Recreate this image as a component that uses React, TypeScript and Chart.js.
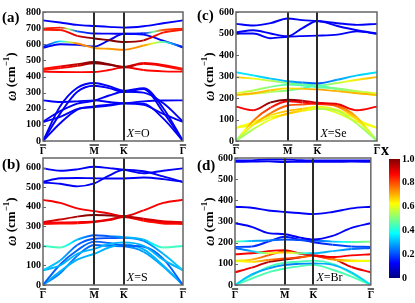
import React, { useEffect, useRef } from 'react';
import { Chart, registerables } from 'chart.js';

Chart.register(...registerables);

const FONT = "'Liberation Serif', 'Times New Roman', serif";

// positions along the Γ–M–K–Γ path (hexagonal BZ: 0.866 : 0.5 : 1)
const kPath = [0, 0.29, 0.58, 0.866, 1.116, 1.366, 1.7, 2.03, 2.366];
const kTickPos = [0, 0.866, 1.366, 2.366];
const kTickLabels = ['\u0393', 'M', 'K', '\u0393'];

// ---------- (a) X = O ----------
const freqO = [
  [748, 735, 720, 713, 708, 703, 712, 730, 748],
  [697, 703, 680, 667, 666, 665, 668, 688, 697],
  [690, 688, 652, 636, 625, 614, 624, 672, 690],
  [583, 618, 605, 577, 572, 566, 592, 615, 580],
  [578, 600, 596, 586, 625, 665, 660, 622, 583],
  [448, 462, 476, 490, 476, 459, 484, 472, 448],
  [440, 452, 466, 482, 472, 459, 478, 465, 440],
  [430, 428, 427, 428, 440, 457, 440, 432, 430],
  [0, 215, 330, 360, 340, 312, 328, 205, 0],
  [0, 170, 305, 343, 328, 305, 322, 180, 0],
  [0, 110, 195, 215, 225, 235, 232, 140, 0],
  [120, 185, 232, 250, 282, 305, 300, 235, 120],
  [118, 150, 198, 210, 220, 232, 224, 168, 118],
  [252, 242, 246, 252, 242, 235, 246, 251, 252],
];
const compO = [
  [0.12, 0.12, 0.12, 0.12, 0.12, 0.12, 0.12, 0.12, 0.12],
  [0.85, 0.85, 0.2, 0.12, 0.12, 0.12, 0.15, 0.8, 0.85],
  [0.85, 0.85, 0.92, 1.0, 1.0, 1.0, 0.95, 0.85, 0.85],
  [0.12, 0.35, 0.75, 0.72, 0.72, 0.75, 0.72, 0.45, 0.12],
  [0.12, 0.12, 0.12, 0.12, 0.12, 0.12, 0.12, 0.12, 0.12],
  [0.85, 0.88, 0.95, 1.0, 1.0, 0.95, 0.9, 0.88, 0.85],
  [0.85, 0.87, 0.92, 0.98, 0.98, 0.95, 0.88, 0.87, 0.85],
  [0.87, 0.87, 0.87, 0.87, 0.87, 0.9, 0.87, 0.87, 0.87],
  [0.12, 0.12, 0.12, 0.12, 0.12, 0.12, 0.12, 0.12, 0.12],
  [0.12, 0.12, 0.12, 0.12, 0.12, 0.12, 0.12, 0.12, 0.12],
  [0.12, 0.12, 0.12, 0.12, 0.12, 0.12, 0.12, 0.12, 0.12],
  [0.12, 0.12, 0.12, 0.12, 0.12, 0.12, 0.12, 0.12, 0.12],
  [0.12, 0.12, 0.12, 0.12, 0.12, 0.12, 0.12, 0.12, 0.12],
  [0.12, 0.12, 0.12, 0.12, 0.12, 0.12, 0.12, 0.12, 0.12],
];

// ---------- (b) X = S ----------
const freqS = [
  [597, 585, 592, 605, 598, 590, 572, 585, 597],
  [528, 546, 548, 546, 545, 545, 550, 542, 528],
  [525, 518, 505, 520, 560, 590, 582, 556, 527],
  [436, 420, 392, 378, 366, 352, 382, 420, 436],
  [322, 335, 350, 358, 356, 352, 340, 326, 322],
  [318, 320, 322, 325, 335, 350, 335, 320, 318],
  [312, 314, 316, 322, 332, 348, 328, 315, 312],
  [200, 192, 232, 255, 250, 245, 232, 192, 200],
  [75, 125, 205, 237, 240, 242, 226, 160, 75],
  [75, 100, 160, 185, 210, 218, 200, 130, 75],
  [0, 105, 178, 222, 215, 202, 196, 135, 0],
  [0, 70, 130, 160, 192, 208, 182, 100, 0],
  [0, 60, 150, 205, 200, 198, 170, 95, 0],
];
const compS = [
  [0.12, 0.12, 0.12, 0.12, 0.12, 0.12, 0.12, 0.12, 0.12],
  [0.12, 0.12, 0.12, 0.12, 0.12, 0.12, 0.12, 0.12, 0.12],
  [0.12, 0.12, 0.12, 0.12, 0.12, 0.12, 0.12, 0.12, 0.12],
  [0.88, 0.88, 0.88, 0.88, 0.9, 0.92, 0.88, 0.88, 0.88],
  [0.9, 0.92, 0.97, 1.0, 1.0, 0.97, 0.93, 0.9, 0.9],
  [0.88, 0.88, 0.88, 0.9, 0.9, 0.92, 0.88, 0.88, 0.88],
  [0.86, 0.86, 0.86, 0.88, 0.88, 0.9, 0.86, 0.86, 0.86],
  [0.42, 0.45, 0.3, 0.2, 0.22, 0.3, 0.3, 0.45, 0.42],
  [0.33, 0.3, 0.22, 0.2, 0.2, 0.22, 0.25, 0.3, 0.33],
  [0.3, 0.3, 0.3, 0.3, 0.3, 0.3, 0.3, 0.3, 0.3],
  [0.22, 0.22, 0.22, 0.22, 0.22, 0.22, 0.22, 0.22, 0.22],
  [0.3, 0.3, 0.3, 0.3, 0.3, 0.3, 0.3, 0.3, 0.3],
  [0.25, 0.25, 0.25, 0.22, 0.22, 0.25, 0.28, 0.3, 0.25],
];

// ---------- (c) X = Se ----------
const freqSe = [
  [545, 537, 548, 570, 562, 558, 548, 540, 545],
  [505, 515, 500, 487, 525, 558, 535, 515, 500],
  [500, 500, 478, 485, 488, 490, 495, 510, 498],
  [320, 305, 290, 278, 272, 268, 285, 305, 320],
  [297, 290, 280, 270, 264, 258, 270, 285, 297],
  [222, 235, 252, 262, 258, 250, 245, 232, 222],
  [215, 222, 236, 245, 243, 240, 232, 222, 215],
  [212, 220, 228, 235, 245, 258, 240, 225, 212],
  [160, 143, 180, 192, 188, 178, 172, 143, 160],
  [0, 95, 155, 185, 180, 172, 165, 110, 0],
  [0, 75, 130, 165, 170, 175, 160, 100, 0],
  [0, 55, 100, 128, 140, 150, 140, 80, 0],
  [61, 88, 120, 140, 150, 160, 145, 100, 61],
  [61, 78, 110, 125, 145, 155, 130, 90, 61],
];
const compSe = [
  [0.12, 0.12, 0.12, 0.12, 0.12, 0.12, 0.12, 0.12, 0.12],
  [0.12, 0.12, 0.12, 0.12, 0.12, 0.12, 0.12, 0.12, 0.12],
  [0.12, 0.12, 0.12, 0.12, 0.12, 0.12, 0.12, 0.12, 0.12],
  [0.35, 0.35, 0.32, 0.3, 0.25, 0.2, 0.28, 0.33, 0.35],
  [0.7, 0.62, 0.55, 0.5, 0.48, 0.45, 0.55, 0.65, 0.7],
  [0.6, 0.55, 0.5, 0.45, 0.45, 0.45, 0.5, 0.55, 0.6],
  [0.7, 0.7, 0.68, 0.65, 0.68, 0.72, 0.7, 0.7, 0.7],
  [0.6, 0.58, 0.55, 0.5, 0.45, 0.42, 0.5, 0.58, 0.6],
  [0.88, 0.88, 1.0, 1.0, 0.95, 0.9, 0.9, 0.88, 0.88],
  [0.5, 0.75, 0.85, 0.88, 0.88, 0.85, 0.8, 0.7, 0.5],
  [0.5, 0.65, 0.75, 0.8, 0.8, 0.82, 0.75, 0.65, 0.5],
  [0.5, 0.55, 0.62, 0.7, 0.65, 0.55, 0.55, 0.55, 0.5],
  [0.62, 0.62, 0.65, 0.7, 0.68, 0.6, 0.6, 0.62, 0.62],
  [0.6, 0.6, 0.6, 0.62, 0.62, 0.6, 0.6, 0.6, 0.6],
];

// ---------- (d) X = Br ----------
const freqBr = [
  [588, 589, 593, 593, 590, 588, 589, 589, 588],
  [582, 583, 584, 581, 582, 582, 582, 583, 582],
  [370, 365, 352, 345, 340, 335, 345, 362, 370],
  [292, 275, 245, 240, 225, 215, 232, 270, 292],
  [205, 208, 210, 215, 212, 210, 205, 203, 205],
  [180, 182, 205, 228, 215, 202, 190, 182, 180],
  [175, 160, 150, 155, 150, 150, 160, 170, 175],
  [145, 150, 160, 165, 150, 140, 132, 140, 145],
  [115, 120, 140, 160, 150, 140, 122, 116, 115],
  [113, 110, 118, 125, 130, 138, 120, 112, 113],
  [60, 82, 108, 120, 130, 140, 125, 85, 60],
  [0, 50, 78, 95, 100, 102, 95, 60, 0],
  [0, 45, 85, 105, 110, 115, 100, 55, 0],
  [0, 30, 60, 78, 88, 95, 72, 40, 0],
];
const compBr = [
  [0.12, 0.12, 0.12, 0.12, 0.12, 0.12, 0.12, 0.12, 0.12],
  [0.12, 0.12, 0.12, 0.12, 0.12, 0.12, 0.12, 0.12, 0.12],
  [0.12, 0.12, 0.12, 0.12, 0.12, 0.12, 0.12, 0.12, 0.12],
  [0.12, 0.12, 0.12, 0.12, 0.12, 0.12, 0.12, 0.12, 0.12],
  [0.5, 0.3, 0.25, 0.2, 0.2, 0.2, 0.3, 0.45, 0.5],
  [0.2, 0.18, 0.15, 0.15, 0.15, 0.15, 0.18, 0.2, 0.2],
  [0.2, 0.3, 0.6, 0.7, 0.5, 0.3, 0.3, 0.25, 0.2],
  [0.88, 0.88, 0.88, 0.88, 0.88, 0.88, 0.88, 0.88, 0.88],
  [0.6, 0.7, 0.8, 0.9, 0.9, 0.9, 0.75, 0.65, 0.6],
  [0.6, 0.65, 0.75, 0.82, 0.8, 0.75, 0.7, 0.62, 0.6],
  [0.88, 0.9, 0.95, 1.0, 1.0, 1.0, 0.95, 0.9, 0.88],
  [0.35, 0.3, 0.28, 0.25, 0.25, 0.28, 0.3, 0.32, 0.35],
  [0.45, 0.45, 0.45, 0.45, 0.45, 0.45, 0.45, 0.45, 0.45],
  [0.45, 0.45, 0.45, 0.45, 0.45, 0.45, 0.45, 0.45, 0.45],
];

const colorbarTicks = [0, 0.2, 0.4, 0.6, 0.8, 1.0];

function jet(v: number): string {
  const c = (t: number) => Math.round(255 * Math.max(0, Math.min(1, 1.5 - Math.abs(t))));
  return `rgb(${c(4 * v - 3)},${c(4 * v - 2)},${c(4 * v - 1)})`;
}

const TICK_FONT = `bold 10px ${FONT}`;

const framePlugin = {
  id: 'phFrame',
  afterDatasetsDraw(chart: any, _args: any, opts: any) {
    const { ctx, chartArea: a, scales } = chart;
    ctx.save();
    // high-symmetry vertical lines
    ctx.strokeStyle = '#2a2a2a';
    ctx.lineWidth = 2;
    [0.866, 1.366].forEach((v) => {
      const x = Math.round(scales.x.getPixelForValue(v));
      ctx.beginPath();
      ctx.moveTo(x, a.top);
      ctx.lineTo(x, a.bottom);
      ctx.stroke();
    });
    // frame
    ctx.strokeStyle = '#666';
    ctx.lineWidth = 1.5;
    ctx.strokeRect(a.left, a.top, a.right - a.left, a.bottom - a.top);
    // small inward y ticks
    ctx.lineWidth = 1;
    scales.y.ticks.forEach((t: any) => {
      const y = Math.round(scales.y.getPixelForValue(t.value)) + 0.5;
      ctx.beginPath();
      ctx.moveTo(a.left, y);
      ctx.lineTo(a.left + 3, y);
      ctx.stroke();
    });
    ctx.fillStyle = '#000';
    ctx.strokeStyle = '#000';
    // overbars on high-symmetry labels
    ctx.font = TICK_FONT;
    ctx.lineWidth = 1.2;
    kTickPos.forEach((v, i) => {
      const x = scales.x.getPixelForValue(v);
      const w = ctx.measureText(kTickLabels[i]).width;
      const y = a.bottom + opts.barOff;
      ctx.beginPath();
      ctx.moveTo(x - w / 2, y);
      ctx.lineTo(x + w / 2, y);
      ctx.stroke();
    });
    // y-axis title  ω (cm^-1)
    ctx.save();
    ctx.translate(opts.titleX, (a.top + a.bottom) / 2);
    ctx.rotate(-Math.PI / 2);
    ctx.textBaseline = 'middle';
    ctx.textAlign = 'left';
    const parts = [
      { t: '\u03C9', f: `italic bold 14px ${FONT}`, dy: 0 },
      { t: ' (cm', f: `bold 13px ${FONT}`, dy: 0 },
      { t: '\u22121', f: `bold 9px ${FONT}`, dy: -5 },
      { t: ')', f: `bold 13px ${FONT}`, dy: 0 },
    ];
    let total = 0;
    parts.forEach((p) => { ctx.font = p.f; total += ctx.measureText(p.t).width; });
    let cx = -total / 2;
    parts.forEach((p) => {
      ctx.font = p.f;
      ctx.fillText(p.t, cx, p.dy);
      cx += ctx.measureText(p.t).width;
    });
    ctx.restore();
    // panel letter
    ctx.textBaseline = 'alphabetic';
    ctx.textAlign = 'left';
    ctx.font = `bold 15px ${FONT}`;
    ctx.fillText(opts.label, 2, opts.labelY);
    // X = atom annotation
    const xk = scales.x.getPixelForValue(1.366) + 3;
    const yb = a.bottom - 4;
    ctx.font = `italic 12px ${FONT}`;
    ctx.fillText('X', xk, yb);
    const w = ctx.measureText('X').width;
    ctx.font = `12px ${FONT}`;
    ctx.fillText('=' + opts.atom, xk + w, yb);
    ctx.restore();
  },
};

type PanelCfg = {
  left: number; top: number; w: number; h: number;
  padTop: number; padRight: number; yw: number; xh: number;
  yMax: number; yTicks: number[]; freq: number[][]; comp: number[][];
  label: string; labelY: number; atom: string; titleX: number;
};

function buildPanel(cfg: PanelCfg): any {
  const datasets = cfg.freq.map((branch, i) => {
    const comps = cfg.comp[i];
    return {
      data: kPath.map((x, j) => ({ x, y: branch[j] })),
      borderColor: jet(comps[0]),
      borderWidth: 1.9,
      pointRadius: 0,
      fill: false,
      cubicInterpolationMode: 'monotone',
      segment: {
        borderColor: (ctx: any) => {
          const c0 = comps[ctx.p0DataIndex];
          const c1 = comps[ctx.p1DataIndex];
          if (c0 === c1) return jet(c0);
          const g = ctx.chart.ctx.createLinearGradient(ctx.p0.x, 0, ctx.p1.x, 0);
          g.addColorStop(0, jet(c0));
          g.addColorStop(0.5, jet((c0 + c1) / 2));
          g.addColorStop(1, jet(c1));
          return g;
        },
      },
    };
  });
  const tickFont = { family: FONT, size: 10, weight: 'bold' as const };
  return {
    type: 'line',
    data: { datasets },
    options: {
      animation: false,
      responsive: false,
      events: [],
      layout: { padding: { top: cfg.padTop, right: cfg.padRight, left: 0, bottom: 0 } },
      plugins: {
        legend: { display: false },
        tooltip: { enabled: false },
        phFrame: { label: cfg.label, labelY: cfg.labelY, atom: cfg.atom, titleX: cfg.titleX, barOff: 4 },
      },
      scales: {
        x: {
          type: 'linear',
          min: 0,
          max: 2.366,
          afterBuildTicks: (s: any) => { s.ticks = kTickPos.map((v) => ({ value: v })); },
          afterFit: (s: any) => { s.height = cfg.xh; },
          ticks: {
            callback: (_v: any, i: number) => kTickLabels[i],
            font: tickFont,
            color: '#000',
            padding: 4,
            maxRotation: 0,
            autoSkip: false,
          },
          grid: { display: false, drawTicks: false },
          border: { display: false },
        },
        y: {
          min: 0,
          max: cfg.yMax,
          afterBuildTicks: (s: any) => { s.ticks = cfg.yTicks.map((v) => ({ value: v })); },
          afterFit: (s: any) => { s.width = cfg.yw; },
          ticks: { font: tickFont, color: '#000', padding: 2 },
          grid: { display: false, drawTicks: false },
          border: { display: false },
        },
      },
    },
    plugins: [framePlugin],
  };
}

const ticks800 = [0, 100, 200, 300, 400, 500, 600, 700, 800];
const ticks600 = [0, 100, 200, 300, 400, 500, 600];

const panels: PanelCfg[] = [
  { left: 0, top: 0, w: 200, h: 155, padTop: 12, padRight: 17, yw: 43, xh: 14, yMax: 800, yTicks: ticks800, freq: freqO, comp: compO, label: '(a)', labelY: 22, atom: 'O', titleX: 12 },
  { left: 0, top: 150, w: 200, h: 153, padTop: 7, padRight: 17, yw: 43, xh: 18, yMax: 650, yTicks: ticks600, freq: freqS, comp: compS, label: '(b)', labelY: 19, atom: 'S', titleX: 12 },
  { left: 195, top: 0, w: 220, h: 155, padTop: 12, padRight: 38, yw: 41, xh: 14, yMax: 600, yTicks: ticks600, freq: freqSe, comp: compSe, label: '(c)', labelY: 20, atom: 'Se', titleX: 15 },
  { left: 195, top: 150, w: 183, h: 153, padTop: 7, padRight: 2, yw: 40, xh: 18, yMax: 600, yTicks: ticks600, freq: freqBr, comp: compBr, label: '(d)', labelY: 20, atom: 'Br', titleX: 15 },
];

function Panel({ cfg }: { cfg: PanelCfg }) {
  const ref = useRef<HTMLCanvasElement | null>(null);
  useEffect(() => {
    const chart = new Chart(ref.current as HTMLCanvasElement, buildPanel(cfg));
    return () => chart.destroy();
  }, []);
  return (
    <canvas
      ref={ref}
      width={cfg.w}
      height={cfg.h}
      style={{ position: 'absolute', left: cfg.left, top: cfg.top, width: cfg.w, height: cfg.h }}
    />
  );
}

const cbLabelPlugin = {
  id: 'cbLabel',
  afterDraw(chart: any) {
    const { ctx } = chart;
    ctx.save();
    ctx.fillStyle = '#000';
    ctx.font = `bold 16px ${FONT}`;
    ctx.textAlign = 'left';
    ctx.fillText('x', 5, 15);
    ctx.restore();
  },
};

function Colorbar() {
  const ref = useRef<HTMLCanvasElement | null>(null);
  useEffect(() => {
    const chart = new Chart(ref.current as HTMLCanvasElement, {
      type: 'bar',
      data: {
        labels: ['x'],
        datasets: [
          {
            data: [[0, 1]] as any,
            barPercentage: 1,
            categoryPercentage: 1,
            borderWidth: 0,
            backgroundColor: (ctx: any) => {
              const a = ctx.chart.chartArea;
              if (!a) return jet(0.5);
              const g = ctx.chart.ctx.createLinearGradient(0, a.bottom, 0, a.top);
              [0, 0.125, 0.25, 0.375, 0.5, 0.625, 0.75, 0.875, 1].forEach((s) => g.addColorStop(s, jet(s)));
              return g;
            },
          },
        ],
      },
      options: {
        animation: false,
        responsive: false,
        events: [],
        layout: { padding: { top: 19, bottom: 25, left: 13, right: 0 } },
        plugins: { legend: { display: false }, tooltip: { enabled: false } },
        scales: {
          x: { display: false },
          y: {
            position: 'right',
            min: 0,
            max: 1,
            afterBuildTicks: (s: any) => { s.ticks = colorbarTicks.map((v) => ({ value: v })); },
            afterFit: (s: any) => { s.width = 15; },
            ticks: {
              callback: (v: any) => (v === 0 ? '0' : Number(v).toFixed(1)),
              font: { family: FONT, size: 10, weight: 'bold' },
              color: '#000',
              padding: 2,
            },
            grid: { display: false, drawTicks: false },
            border: { display: false },
          },
        },
      } as any,
      plugins: [cbLabelPlugin],
    });
    return () => chart.destroy();
  }, []);
  return (
    <canvas
      ref={ref}
      width={39}
      height={163}
      style={{ position: 'absolute', left: 376, top: 140, width: 39, height: 163 }}
    />
  );
}

export default function App() {
  return (
    <div style={{ position: 'absolute', left: 0, top: 0, width: 415, height: 303, background: '#fff', overflow: 'hidden' }}>
      {panels.map((p) => (
        <Panel key={p.label} cfg={p} />
      ))}
      <Colorbar />
    </div>
  );
}
